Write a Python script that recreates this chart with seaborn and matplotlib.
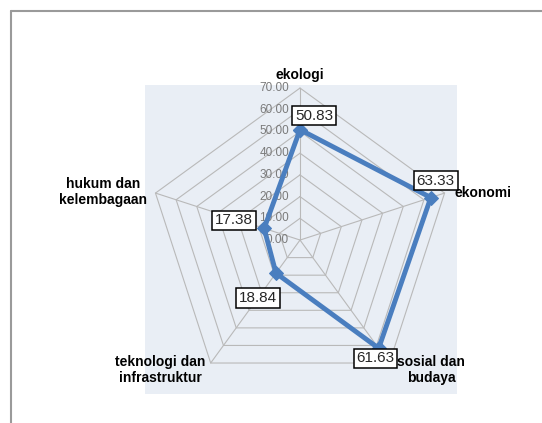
import numpy as np
import pandas as pd
import matplotlib
matplotlib.use('Agg')
import matplotlib.pyplot as plt
import seaborn as sns
from matplotlib.lines import Line2D

# data
categories = ['ekologi', 'ekonomi', 'sosial dan\nbudaya', 'teknologi dan\ninfrastruktur', 'hukum dan\nkelembagaan']
values = [50.83, 63.33, 61.63, 18.84, 17.38]
levels = [0, 10, 20, 30, 40, 50, 60, 70]

# angles: start at top, go clockwise
n = len(categories)
angles = np.pi / 2 - 2 * np.pi * np.arange(n) / n

sns.set_style('white')
plt.rcParams['font.family'] = ['Liberation Sans', 'DejaVu Sans']

fig = plt.figure(figsize=(5.42, 4.23), dpi=100)
ax = fig.add_axes([145 / 542, 29 / 423, 312 / 542, 309 / 423])
ax.set_facecolor('#e9eef5')
for s in ax.spines.values():
    s.set_visible(False)
ax.set_xticks([])
ax.set_yticks([])
ax.set_xlim(-71.4, 72.3)
ax.set_ylim(-70.9, 71.4)

# pentagon grid
grid_col = '#b9b9b9'
for r in levels[1:]:
    gx = np.append(r * np.cos(angles), r * np.cos(angles[0]))
    gy = np.append(r * np.sin(angles), r * np.sin(angles[0]))
    ax.plot(gx, gy, color=grid_col, lw=0.8, zorder=1)
for a in angles:
    ax.plot([0, 70 * np.cos(a)], [0, 70 * np.sin(a)], color=grid_col, lw=0.8, zorder=1)

# radial tick labels
for r in levels:
    ax.annotate(f'{r:.2f}', (0, r), xytext=(-11, 0), textcoords='offset pixels',
                ha='right', va='center', fontsize=8.5, color='#7a7a7a', zorder=2)

# data polygon
df = pd.DataFrame({'x': values * np.cos(angles), 'y': values * np.sin(angles)})
df = pd.concat([df, df.iloc[:1]], ignore_index=True)
sns.lineplot(data=df, x='x', y='y', sort=False, estimator=None, ax=ax,
             color='#4a7ebf', lw=3.5, marker='D', markersize=7.5,
             markeredgecolor='#4a7ebf', zorder=3)
ax.set_xlabel('')
ax.set_ylabel('')

# value labels
offsets = [(14, 14), (5, 17), (-3, -10), (-18, -25), (-30, 8)]
for v, a, off in zip(values, angles, offsets):
    ax.annotate(f'{v:.2f}', (v * np.cos(a), v * np.sin(a)), xytext=off,
                textcoords='offset pixels', ha='center', va='center', fontsize=11,
                bbox=dict(boxstyle='square,pad=0.18', fc='white', ec='black', lw=1.1),
                zorder=4)

# category labels
cat_pos = [((0, 13), 'center'), ((10, 0), 'left'), ((8, -7), 'left'),
           ((-5, -7), 'right'), ((-8, 1), 'right')]
for c, a, (off, ha) in zip(categories, angles, cat_pos):
    ax.annotate(c, (70 * np.cos(a), 70 * np.sin(a)), xytext=off,
                textcoords='offset pixels', ha=ha, va='center', multialignment='center',
                fontsize=10, fontweight='bold', color='black', annotation_clip=False)

# outer frame
fx = 11 / 542
fy = 1 - 11 / 423
fig.add_artist(Line2D([fx, fx], [0, fy], transform=fig.transFigure, color='#9a9a9a', lw=1.5))
fig.add_artist(Line2D([fx, 1], [fy, fy], transform=fig.transFigure, color='#9a9a9a', lw=1.5))

plt.savefig('out.png', dpi=100)
